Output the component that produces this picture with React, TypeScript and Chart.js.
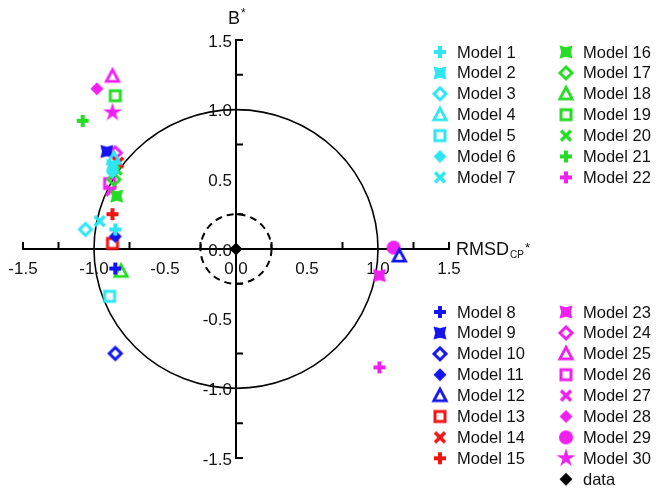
import React, { useEffect, useRef } from 'react';
import { Chart, registerables } from 'chart.js';

Chart.register(...registerables);

const modelNames = [
  'Model 1', 'Model 2', 'Model 3', 'Model 4', 'Model 5', 'Model 6', 'Model 7',
  'Model 8', 'Model 9', 'Model 10', 'Model 11', 'Model 12', 'Model 13', 'Model 14', 'Model 15',
  'Model 16', 'Model 17', 'Model 18', 'Model 19', 'Model 20', 'Model 21', 'Model 22',
  'Model 23', 'Model 24', 'Model 25', 'Model 26', 'Model 27', 'Model 28', 'Model 29', 'Model 30',
];
const rmsdValues = [
  -0.85, -0.87, -1.06, -0.86, -0.89, -0.87, -0.96,
  -0.85, -0.91, -0.85, -0.85, 1.15, -0.87, -0.83, -0.87,
  -0.84, -0.86, -0.81, -0.85, -0.84, -1.08, 1.01,
  1.01, -0.85, -0.87, -0.89, -0.88, -0.98, 1.11, -0.87,
];
const biasValues = [
  0.14, 0.60, 0.14, 0.65, -0.34, 0.55, 0.20,
  -0.14, 0.70, -0.75, 0.09, -0.05, 0.04, 0.62, 0.25,
  0.38, 0.50, -0.16, 1.10, 0.57, 0.92, -0.85,
  -0.19, 0.69, 1.24, 0.47, 0.42, 1.15, 0.01, 0.98,
];
const modelColorNames = [
  'cyan', 'cyan', 'cyan', 'cyan', 'cyan', 'cyan', 'cyan',
  'blue', 'blue', 'blue', 'blue', 'blue', 'red', 'red', 'red',
  'green', 'green', 'green', 'green', 'green', 'green', 'magenta',
  'magenta', 'magenta', 'magenta', 'magenta', 'magenta', 'magenta', 'magenta', 'magenta',
];
const modelShapes = [
  'plus', 'bowtie', 'diamondO', 'triangle', 'square', 'diamond', 'cross',
  'plus', 'bowtie', 'diamondO', 'diamond', 'triangle', 'square', 'cross', 'plus',
  'bowtie', 'diamondO', 'triangle', 'square', 'cross', 'plus', 'plus',
  'bowtie', 'diamondO', 'triangle', 'square', 'cross', 'diamond', 'circle', 'star',
];
const dataLabel = 'data';
const dataRmsd = [0];
const dataBias = [0];

const axisMin = -1.5;
const axisMax = 1.5;
const tickLabelValues = [-1.5, -1.0, -0.5, 0, 0.5, 1.0, 1.5];
const tickLabels = ['-1.5', '-1.0', '-0.5', '0.0', '0.5', '1.0', '1.5'];
const tickMarkValues = [-1.5, -1.25, -0.75, -0.25, 0.25, 0.75, 1.25, 1.5];
const outerCircleRadius = [1.0];
const innerCircleRadius = [0.25];

const palette: Record<string, string> = {
  cyan: '#2ee6f2',
  blue: '#1414f0',
  red: '#f01414',
  green: '#26dc26',
  magenta: '#f020f0',
  black: '#000000',
};

const FONT = '"Liberation Sans", Arial, Helvetica, sans-serif';

function makeMarker(shape: string, color: string): HTMLCanvasElement {
  const S = 24;
  const c = document.createElement('canvas');
  c.width = S;
  c.height = S;
  const g = c.getContext('2d')!;
  g.translate(S / 2, S / 2);
  g.fillStyle = color;
  g.strokeStyle = color;
  g.lineJoin = 'miter';
  g.lineCap = 'butt';
  g.beginPath();
  switch (shape) {
    case 'plus':
      g.lineWidth = 4;
      g.moveTo(-6, 0); g.lineTo(6, 0);
      g.moveTo(0, -6); g.lineTo(0, 6);
      g.stroke();
      break;
    case 'bowtie':
      g.moveTo(-6.5, -6.5); g.lineTo(0, -4.8); g.lineTo(6.5, -6.5); g.lineTo(4.8, 0);
      g.lineTo(6.5, 6.5); g.lineTo(0, 4.8); g.lineTo(-6.5, 6.5); g.lineTo(-4.8, 0);
      g.closePath();
      g.fill();
      break;
    case 'diamondO':
      g.lineWidth = 3;
      g.moveTo(0, -6); g.lineTo(6, 0); g.lineTo(0, 6); g.lineTo(-6, 0); g.closePath();
      g.stroke();
      break;
    case 'triangle':
      g.lineWidth = 2.8;
      g.moveTo(0, -6.5); g.lineTo(6.2, 5.2); g.lineTo(-6.2, 5.2); g.closePath();
      g.stroke();
      break;
    case 'square':
      g.lineWidth = 3;
      g.strokeRect(-5, -5, 10, 10);
      break;
    case 'diamond':
      g.moveTo(0, -6.5); g.lineTo(6.5, 0); g.lineTo(0, 6.5); g.lineTo(-6.5, 0); g.closePath();
      g.fill();
      break;
    case 'cross':
      g.lineWidth = 3.5;
      g.moveTo(-5, -5); g.lineTo(5, 5);
      g.moveTo(5, -5); g.lineTo(-5, 5);
      g.stroke();
      break;
    case 'circle':
      g.arc(0, 0, 7, 0, Math.PI * 2);
      g.fill();
      break;
    case 'star': {
      const ro = 10, ri = 3.6;
      for (let k = 0; k < 10; k++) {
        const r = k % 2 === 0 ? ro : ri;
        const a = -Math.PI / 2 + (k * Math.PI) / 5;
        const px = r * Math.cos(a), py = r * Math.sin(a);
        if (k === 0) g.moveTo(px, py); else g.lineTo(px, py);
      }
      g.closePath();
      g.fill();
      break;
    }
  }
  return c;
}

export default function App() {
  const ref = useRef<HTMLCanvasElement | null>(null);

  useEffect(() => {
    document.body.style.margin = '0';
    const canvas = ref.current;
    if (!canvas) return;

    const markers = modelNames.map((_, i) => makeMarker(modelShapes[i], palette[modelColorNames[i]]));
    const dataMarker = makeMarker('diamond', palette.black);

    const datasets: any[] = modelNames.map((name, i) => ({
      label: name,
      data: [{ x: rmsdValues[i], y: biasValues[i] }],
      pointStyle: markers[i],
      pointRadius: 8,
      pointHoverRadius: 8,
      order: i,
      clip: false,
    }));
    datasets.push({
      label: dataLabel,
      data: dataRmsd.map((x, i) => ({ x, y: dataBias[i] })),
      pointStyle: dataMarker,
      pointRadius: 8,
      order: -1,
      clip: false,
    });

    const targetPlugin = {
      id: 'targetAxes',
      beforeDatasetsDraw(chart: any) {
        const { ctx, scales } = chart;
        const xs = scales.x, ys = scales.y;
        const x0 = xs.getPixelForValue(0), y0 = ys.getPixelForValue(0);
        ctx.save();
        ctx.strokeStyle = '#000';
        ctx.lineWidth = 1.6;
        outerCircleRadius.forEach((r) => {
          const rx = xs.getPixelForValue(r) - x0;
          const ry = y0 - ys.getPixelForValue(r);
          ctx.beginPath();
          ctx.ellipse(x0, y0, rx, ry, 0, 0, Math.PI * 2);
          ctx.stroke();
        });
        ctx.lineWidth = 2;
        ctx.setLineDash([7, 5]);
        innerCircleRadius.forEach((r) => {
          const rx = xs.getPixelForValue(r) - x0;
          const ry = y0 - ys.getPixelForValue(r);
          ctx.beginPath();
          ctx.ellipse(x0, y0, rx, ry, 0, 0, Math.PI * 2);
          ctx.stroke();
        });
        ctx.setLineDash([]);
        ctx.lineWidth = 2;
        ctx.beginPath();
        ctx.moveTo(xs.getPixelForValue(axisMin), y0);
        ctx.lineTo(xs.getPixelForValue(axisMax), y0);
        ctx.moveTo(x0, ys.getPixelForValue(axisMax));
        ctx.lineTo(x0, ys.getPixelForValue(axisMin));
        ctx.stroke();
        ctx.beginPath();
        tickMarkValues.forEach((v) => {
          const px = xs.getPixelForValue(v);
          ctx.moveTo(px, y0 + 1);
          ctx.lineTo(px, y0 - 7);
          const py = ys.getPixelForValue(v);
          ctx.moveTo(x0 - 1, py);
          ctx.lineTo(x0 + 7, py);
        });
        ctx.stroke();
        ctx.fillStyle = '#111';
        ctx.font = `17px ${FONT}`;
        ctx.textAlign = 'center';
        ctx.textBaseline = 'middle';
        tickLabelValues.forEach((v, i) => {
          ctx.fillText(tickLabels[i], xs.getPixelForValue(v), y0 + 20);
        });
        ctx.textAlign = 'right';
        tickLabelValues.forEach((v, i) => {
          ctx.fillText(tickLabels[i], x0 - 4, ys.getPixelForValue(v) + 2);
        });
        ctx.textAlign = 'left';
        ctx.textBaseline = 'alphabetic';
        ctx.font = `18px ${FONT}`;
        ctx.fillText('B', x0 - 8, 24);
        ctx.font = `12px ${FONT}`;
        ctx.fillText('*', x0 + 5, 17);
        const tx = xs.getPixelForValue(axisMax) + 7;
        ctx.font = `18px ${FONT}`;
        ctx.fillText('RMSD', tx, y0 + 6);
        const w = ctx.measureText('RMSD').width;
        ctx.font = `10px ${FONT}`;
        ctx.fillText('CP', tx + w + 1, y0 + 9);
        const w2 = ctx.measureText('CP').width;
        ctx.font = `13px ${FONT}`;
        ctx.fillText('*', tx + w + w2 + 2, y0 + 3);
        ctx.restore();
      },
      afterDraw(chart: any) {
        const { ctx } = chart;
        ctx.save();
        ctx.font = `16.5px ${FONT}`;
        ctx.fillStyle = '#111';
        ctx.textAlign = 'left';
        ctx.textBaseline = 'middle';
        const step = 20.9;
        const groups = [
          { idx: [0, 1, 2, 3, 4, 5, 6], sx: 440, tx: 457, y: 52 },
          { idx: [15, 16, 17, 18, 19, 20, 21], sx: 566, tx: 583, y: 52 },
          { idx: [7, 8, 9, 10, 11, 12, 13, 14], sx: 440, tx: 457, y: 312 },
          { idx: [22, 23, 24, 25, 26, 27, 28, 29, 30], sx: 566, tx: 583, y: 312 },
        ];
        groups.forEach((grp) => {
          grp.idx.forEach((di, r) => {
            const ds = chart.data.datasets[di];
            const yy = grp.y + r * step;
            const img = ds.pointStyle as HTMLCanvasElement;
            ctx.drawImage(img, grp.sx - img.width / 2, yy - img.height / 2);
            ctx.fillText(ds.label, grp.tx, yy + 1);
          });
        });
        ctx.restore();
      },
    };

    const chart = new Chart(canvas, {
      type: 'scatter',
      data: { datasets },
      options: {
        responsive: false,
        animation: false,
        events: [],
        layout: { padding: { left: 23, right: 210, top: 40, bottom: 33 } },
        scales: {
          x: { type: 'linear', min: axisMin, max: axisMax, display: false },
          y: { type: 'linear', min: axisMin, max: axisMax, display: false },
        },
        plugins: {
          legend: { display: false },
          tooltip: { enabled: false },
        },
      },
      plugins: [targetPlugin],
    } as any);

    return () => chart.destroy();
  }, []);

  return (
    <div style={{ width: 659, height: 491, background: '#fff' }}>
      <canvas ref={ref} width={659} height={491} style={{ display: 'block' }} />
    </div>
  );
}
